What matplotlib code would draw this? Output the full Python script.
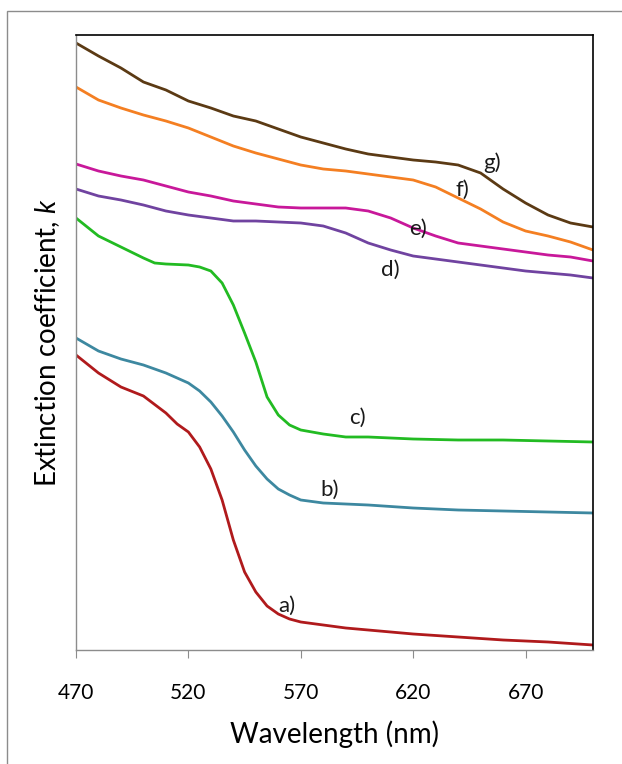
import matplotlib
matplotlib.use("Agg")
import matplotlib.pyplot as plt
from matplotlib.patches import Rectangle

# wavelength grids (nm)
wl_even = [470, 480, 490, 500, 510, 520, 530, 540, 550, 560, 570, 580,
           590, 600, 610, 620, 630, 640, 650, 660, 670, 680, 690, 700]
wl_c = [470, 480, 490, 500, 505, 510, 520, 525, 530, 535, 540, 545, 550,
        555, 560, 565, 570, 580, 590, 600, 620, 640, 660, 680, 700]
wl_ab = [470, 480, 490, 500, 510, 515, 520, 525, 530, 535, 540, 545, 550,
         555, 560, 565, 570, 580, 590, 600, 620, 640, 660, 680, 700]

# extinction coefficient, arbitrary units
k_g = [607, 594, 582, 568, 560, 549, 542, 534, 529, 521, 513, 507,
       501, 496, 493, 490, 488, 485, 477, 461, 447, 435, 427, 423]
k_f = [563, 550, 542, 535, 529, 522, 513, 504, 497, 491, 485, 481,
       479, 476, 473, 470, 463, 452, 441, 428, 419, 414, 408, 400]
k_e = [486, 479, 474, 470, 464, 458, 454, 449, 446, 443, 442, 442,
       442, 439, 432, 422, 414, 407, 404, 401, 398, 395, 393, 389]
k_d = [461, 454, 450, 445, 439, 435, 432, 429, 429, 428, 427, 424,
       417, 407, 400, 394, 391, 388, 385, 382, 379, 377, 375, 372]
k_c = [432, 414, 403, 392, 387, 386, 385, 383, 379, 367, 345, 317, 288,
       253, 235, 225, 220, 216, 213, 213, 211, 210, 210, 209, 208]
k_b = [312, 299, 291, 285, 277, 272, 267, 259, 248, 234, 218, 200, 184,
       171, 161, 155, 150, 147, 146, 145, 142, 140, 139, 138, 137]
k_a = [295, 277, 263, 254, 237, 226, 218, 203, 181, 150, 110, 78, 58,
       44, 36, 31, 28, 25, 22, 20, 16, 13, 10, 8, 5]

labels = ["a)", "b)", "c)", "d)", "e)", "f)", "g)"]
label_x = [564, 583, 595, 610, 622, 642, 655]
label_y = [44, 160, 232, 380, 421, 460, 487]

plt.rcParams['font.family'] = ['Lato', 'DejaVu Sans']
plt.rcParams['mathtext.fontset'] = 'custom'
plt.rcParams['mathtext.rm'] = 'Lato'
plt.rcParams['mathtext.it'] = 'Lato:italic'

fig = plt.figure(figsize=(6.22, 7.64), dpi=100)
ax = fig.add_axes([76 / 622, 114 / 764, 517 / 622, 615 / 764])

series = [
    (wl_ab, k_a, "#b01a1c"),
    (wl_ab, k_b, "#3d88a0"),
    (wl_c, k_c, "#22bb22"),
    (wl_even, k_d, "#7043a0"),
    (wl_even, k_e, "#c8189a"),
    (wl_even, k_f, "#f47f22"),
    (wl_even, k_g, "#5b3a14"),
]
for x, y, col in series:
    ax.plot(x, y, color=col, lw=2.0, solid_joinstyle='round')

for t, x, y in zip(labels, label_x, label_y):
    ax.text(x, y, t, fontsize=16, ha='center', va='center', color='#1a1a1a')

ax.set_xlim(470, 700)
ax.set_ylim(0, 615)
ax.set_xticks([470, 520, 570, 620, 670])
ax.set_yticks([])
ax.tick_params(axis='x', direction='out', length=6, width=0.8, color='#8c8c8c',
               labelsize=15, pad=18)
for s in ['left', 'bottom']:
    ax.spines[s].set_color('#8c8c8c')
    ax.spines[s].set_linewidth(1.0)
for s in ['top', 'right']:
    ax.spines[s].set_color('black')
    ax.spines[s].set_linewidth(1.2)

ax.set_xlabel("Wavelength (nm)", fontsize=20, labelpad=12)
ax.set_ylabel(r"Extinction coefficient, $\it{k}$", fontsize=20, labelpad=10)

# outer chart border
fig.patches.append(Rectangle((7 / 622, -0.05), 1.1, (764 - 11) / 764 + 0.05,
                             transform=fig.transFigure, fill=False,
                             edgecolor='#8c8c8c', lw=1.0))

fig.savefig("out.png", dpi=100)
